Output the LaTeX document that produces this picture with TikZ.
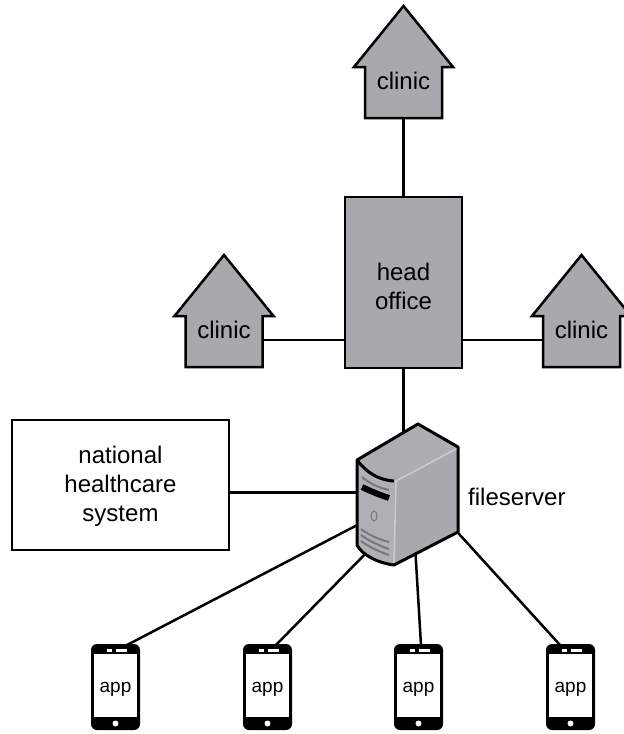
\documentclass[tikz,border=0pt]{standalone}
\usepackage{fontspec}
\setmainfont{Liberation Sans}
\usetikzlibrary{shapes}
\usetikzlibrary{arrows}
\definecolor{housegray}{HTML}{A7A9AC}
\definecolor{darkbar}{HTML}{77787B}
\definecolor{lightbar}{HTML}{C9CBCD}

% body of a house, with the text on top
\newcommand{\clinichouse}[3]{
	\draw[houseline] (#2,#3) ++(0,-61) -- ++(49.5,61) -- ++(-11,0) -- ++(0,51) -- ++(-77,0) -- ++(0,-51) -- ++(-11,0) -- cycle;
	\node[housebody] (#1) at (#2,#3+25.5) {};
	\node[labeltext,anchor=base] (#1text) at (#2,#3+22) {clinic};
}
% phone body, screen and button
\newcommand{\phone}[2]{
	\node[phonebody] (#1) at (#2,687) {};
	\node[phonescreen] (#1screen) at (#2,685.5) {};
	\node[apptext] (#1text) at (#2,685.5) {app};
	\node[phonedot,minimum width=5pt,minimum height=3pt] (#1left) at (#2-6,650.5) {};
	\node[phonedot,minimum width=11pt,minimum height=3pt] (#1right) at (#2+5.5,650.5) {};
	\node[phonedot,circle,minimum size=6pt] (#1button) at (#2,723.5) {};
}

\begin{document}
\begin{tikzpicture}[x=1pt,y=-1pt]
	\tikzstyle{labeltext}=[font=\fontsize{24}{29}\selectfont,inner sep=0pt,align=center]
	\tikzstyle{apptext}=[font=\fontsize{19}{23}\selectfont,inner sep=0pt,anchor=base,yshift=-7pt]
	\tikzstyle{houseline}=[fill=housegray,draw=black,line width=2.5pt,miter limit=10]
	\tikzstyle{housebody}=[rectangle,minimum width=77pt,minimum height=51pt,inner sep=0pt]
	\tikzstyle{wire}=[draw=black,line width=2.5pt]
	\tikzstyle{phonebody}=[rectangle,rounded corners=6pt,fill=black,minimum width=49pt,minimum height=86pt,inner sep=0pt]
	\tikzstyle{phonescreen}=[rectangle,fill=white,minimum width=43pt,minimum height=63pt,inner sep=0pt]
	\tikzstyle{phonedot}=[rectangle,fill=white,inner sep=0pt]
	\tikzstyle{bar}=[line width=2pt,draw=darkbar]

	\useasboundingbox (0,0) rectangle (624,734);

	\clinichouse{clinictop}{403.5}{67}
	\clinichouse{clinicleft}{224}{316}
	\clinichouse{clinicright}{581.5}{316}

	\node[draw=black,line width=2.5pt,fill=housegray,minimum width=117pt,minimum height=171pt,inner sep=0pt] (headoffice) at (403.5,282.5) {};
	\node[labeltext] (headofficetext) at (403.5,286) {head\\office};
	\node[draw=black,line width=2.5pt,minimum width=217pt,minimum height=130pt,inner sep=0pt] (national) at (120.5,485) {};
	\node[labeltext] (nationaltext) at (120.5,486) {national\\healthcare\\system};
	\node[labeltext,anchor=west] (fileserverlabel) at (468,497) {fileserver};

	\phone{appa}{115.5}
	\phone{appb}{267.5}
	\phone{appc}{418.5}
	\phone{appd}{570.5}

	% ends of the wires, hidden by the server
	\coordinate (sidewire) at (403.5,340);
	\coordinate (serverhub) at (403.5,440);
	\coordinate (serverwest) at (365,492.5);
	\coordinate (serverlink) at (365,521);
	\coordinate (serverfoot) at (372,547);
	\coordinate (serverbase) at (415,545);
	\coordinate (servereast) at (450,524);
	\coordinate (appatop) at (127,645);
	\coordinate (appbtop) at (276,645);
	\coordinate (appctop) at (421,645);
	\coordinate (appdtop) at (560,645);

	\draw[wire] (clinictop.south) -- (headoffice.north);
	\draw[wire] (clinicleft.east |- sidewire) -- (headoffice.west |- sidewire);
	\draw[wire] (headoffice.east |- sidewire) -- (clinicright.west |- sidewire);
	\draw[wire] (headoffice.south) -- (serverhub);
	\draw[wire] (national.east |- serverwest) -- (serverwest);
	\draw[wire] (appatop) -- (serverlink);
	\draw[wire] (appbtop) -- (serverfoot);
	\draw[wire] (appctop) -- (serverbase);
	\draw[wire] (appdtop) -- (servereast);

	% server
	\fill[housegray!95!white] (357,460) -- (418,424) -- (458,447) -- (394,482) .. controls (378,480) and (366,472) .. cycle;
	\fill[housegray] (394,482) -- (458,447) -- (458,532) -- (394,565) -- cycle;
	\fill[housegray!92!white] (357,460) .. controls (366,472) and (378,480) .. (394,482) -- (394,565) .. controls (378,563) and (362,555) .. (357,545) -- cycle;
	\draw[line width=1.6pt,draw=lightbar] (458,448) -- (396,481) -- (394,563);
	\draw[bar] (362,477) .. controls (370,484) and (380,488) .. (389,490);
	\draw[line width=6pt] (362,487) .. controls (370,491) and (380,495) .. (389,498);
	\draw[darkbar,line width=1pt] (374,516) ellipse (3pt and 5pt);
	\draw[bar] (361,529) .. controls (369,535) and (380,540) .. (389,542);
	\draw[bar] (361,535) .. controls (369,541) and (380,546) .. (389,549);
	\draw[bar] (361,541) .. controls (369,547) and (380,552) .. (389,555);
	\draw[line width=3pt,line join=round] (357,460) -- (418,424) -- (458,447) -- (458,532) -- (394,565) .. controls (378,563) and (362,555) .. (357,545) -- cycle;
	\draw[line width=3pt] (357,460) .. controls (366,472) and (378,480) .. (394,481);
\end{tikzpicture}
\end{document}
